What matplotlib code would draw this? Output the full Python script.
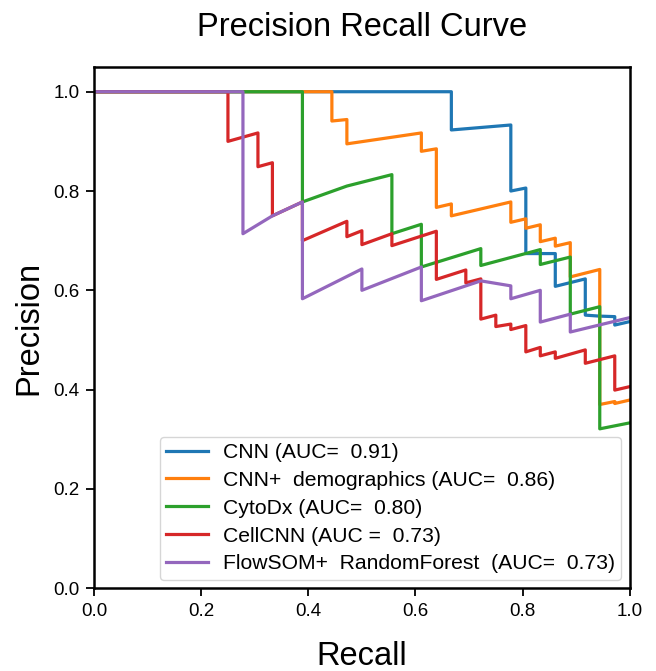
import numpy as np
import matplotlib.pyplot as plt

plt.rcParams['font.family'] = ['Liberation Sans', 'DejaVu Sans']

# recall / precision points
cnn_recall = [0.0, 0.667, 0.667, 0.778, 0.778, 0.806, 0.806, 0.861, 0.861, 0.917, 0.917, 0.944, 0.972, 0.972, 1.0]
cnn_precision = [1.0, 1.0, 0.923, 0.933, 0.800, 0.806, 0.674, 0.674, 0.608, 0.623, 0.550, 0.548, 0.547, 0.530, 0.537]

demo_recall = [0.0, 0.444, 0.444, 0.472, 0.472, 0.611, 0.611, 0.639, 0.639, 0.667, 0.667, 0.778, 0.778,
               0.806, 0.806, 0.833, 0.833, 0.861, 0.861, 0.889, 0.889, 0.944, 0.944, 0.972, 0.972, 1.0]
demo_precision = [1.0, 1.0, 0.941, 0.944, 0.895, 0.917, 0.880, 0.885, 0.767, 0.774, 0.750, 0.778, 0.737,
                  0.744, 0.725, 0.732, 0.698, 0.705, 0.689, 0.696, 0.627, 0.642, 0.370, 0.376, 0.372, 0.379]

cyto_recall = [0.0, 0.389, 0.389, 0.472, 0.556, 0.556, 0.611, 0.611, 0.722, 0.722, 0.833, 0.833, 0.889, 0.889, 0.944, 0.944, 1.0]
cyto_precision = [1.0, 1.0, 0.778, 0.810, 0.833, 0.714, 0.733, 0.647, 0.684, 0.650, 0.682, 0.652, 0.667, 0.552, 0.567, 0.321, 0.333]

cell_recall = [0.0, 0.25, 0.25, 0.306, 0.306, 0.333, 0.333, 0.389, 0.389, 0.472, 0.472, 0.5, 0.5, 0.556, 0.556,
               0.639, 0.639, 0.694, 0.694, 0.722, 0.722, 0.75, 0.75, 0.778, 0.778, 0.806, 0.806, 0.833, 0.833,
               0.861, 0.861, 0.917, 0.917, 0.972, 0.972, 1.0]
cell_precision = [1.0, 1.0, 0.900, 0.917, 0.849, 0.857, 0.750, 0.778, 0.700, 0.739, 0.708, 0.720, 0.692, 0.714, 0.690,
                  0.719, 0.622, 0.641, 0.615, 0.623, 0.542, 0.550, 0.527, 0.532, 0.521, 0.529, 0.476, 0.485, 0.468,
                  0.476, 0.463, 0.480, 0.453, 0.468, 0.399, 0.406]

flow_recall = [0.0, 0.278, 0.278, 0.333, 0.389, 0.389, 0.5, 0.5, 0.611, 0.611, 0.722, 0.75, 0.778, 0.778,
               0.833, 0.833, 0.889, 0.889, 1.0]
flow_precision = [1.0, 1.0, 0.714, 0.750, 0.778, 0.583, 0.643, 0.600, 0.647, 0.579, 0.619, 0.614, 0.609, 0.583,
                  0.600, 0.536, 0.552, 0.516, 0.545]

labels = ['CNN (AUC=  0.91)', 'CNN+  demographics (AUC=  0.86)', 'CytoDx (AUC=  0.80)',
          'CellCNN (AUC =  0.73)', 'FlowSOM+  RandomForest  (AUC=  0.73)']

fig = plt.figure(figsize=(6.56, 6.71), dpi=100)
ax = fig.add_axes([0.1433, 0.1234, 0.8167, 0.7769])

curves = [(cnn_recall, cnn_precision), (demo_recall, demo_precision), (cyto_recall, cyto_precision),
          (cell_recall, cell_precision), (flow_recall, flow_precision)]
for (r, p), lab in zip(curves, labels):
    ax.plot(r, p, lw=2.3, label=lab)

ax.set_xlim(0, 1)
ax.set_ylim(0, 1.05)
ax.set_xticks(np.arange(0, 1.01, 0.2))
ax.set_yticks(np.arange(0, 1.01, 0.2))
ax.tick_params(labelsize=13.5, width=1.3, length=5.5, pad=5)
for s in ax.spines.values():
    s.set_linewidth(1.8)

ax.set_xlabel('Recall', fontsize=23.5, labelpad=15)
ax.set_ylabel('Precision', fontsize=23.5, labelpad=6)
ax.set_title('Precision Recall Curve', fontsize=23.5, pad=22)
ax.legend(loc='lower right', fontsize=15.2, borderaxespad=0.4, borderpad=0.3,
          handlelength=2.0, handletextpad=0.7, labelspacing=0.42)

fig.savefig('out.png', dpi=100)
